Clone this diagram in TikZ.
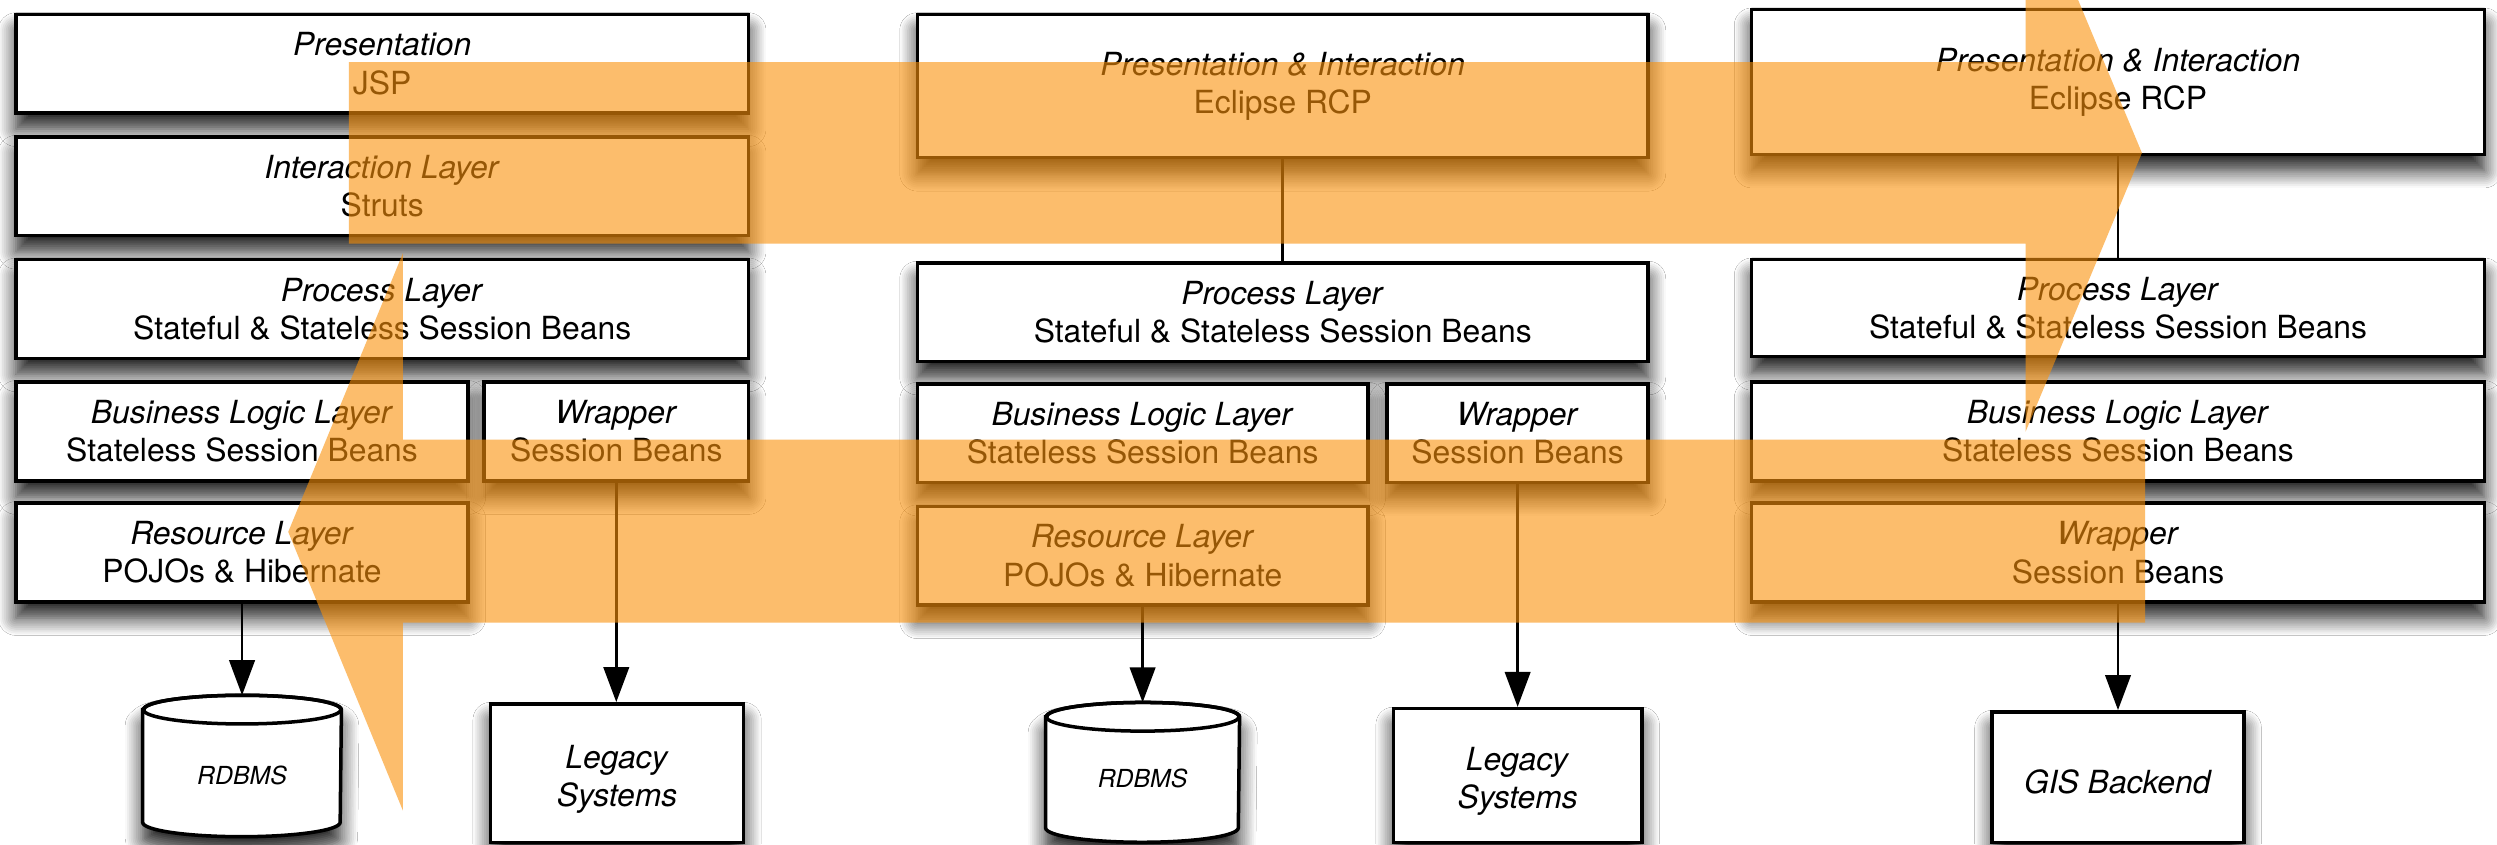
\documentclass[tikz,border=0pt]{standalone}
\usepackage{fontspec}
\setmainfont{TeX Gyre Heros}
\usetikzlibrary{shadows.blur,arrows.meta,calc}
\definecolor{hl}{RGB}{250,145,10}
\tikzset{
  shad/.style={blur shadow={shadow xshift=0pt, shadow yshift=-5pt, shadow blur radius=5.5pt, shadow opacity=90, shadow blur steps=10}},
  box/.style={draw=black, line width=1.1pt, fill=white, align=center, inner sep=0pt,
    font=\fontsize{10}{12}\selectfont, shad},
  cyl/.style={draw=black, line width=1.1pt, fill=white, shad},
  dbtext/.style={font=\fontsize{7.8}{9}\selectfont\itshape, inner sep=0pt},
  link/.style={draw=black, line width=0.8pt},
  arr/.style={link, -{Triangle[length=11pt,width=8pt]}},
  hlarrow/.style={fill=hl, fill opacity=0.6, draw=none},
}
\begin{document}
\begin{tikzpicture}[x=0.5pt,y=-0.5pt]
\useasboundingbox (0,0) rectangle (1568,530);
\fill[white] (0,0) rectangle (1568,530);
\clip (0,0) rectangle (1568,530);

% ---------- column 1 ----------
\node[box, minimum width=230pt, minimum height=31pt] (p1) at (240,40) {\textit{Presentation}\\JSP};
\node[box, minimum width=230pt, minimum height=31pt] (i1) at (240,117) {\textit{Interaction Layer}\\Struts};
\node[box, minimum width=230pt, minimum height=31pt] (pr1) at (240,194) {\textit{Process Layer}\\Stateful \& Stateless Session Beans};
\node[box, minimum width=142pt, minimum height=31pt] (b1) at (152,271) {\textit{Business Logic Layer}\\Stateless Session Beans};
\node[box, minimum width=83pt, minimum height=31pt] (w1) at (387,271) {\textit{Wrapper}\\Session Beans};
\node[box, minimum width=142pt, minimum height=31pt] (r1) at (152,347) {\textit{Resource Layer}\\POJOs \& Hibernate};
\node[minimum width=62pt, minimum height=44pt, inner sep=0pt] (db1) at (152,481) {};
\draw[cyl] ([yshift=-4.5pt]db1.north west) -- ([yshift=4.5pt]db1.south west)
  arc[start angle=180, end angle=360, x radius=31pt, y radius=4.5pt]
  -- ([yshift=-4.5pt]db1.north east)
  arc[start angle=0, end angle=180, x radius=31pt, y radius=4.5pt] -- cycle;
\draw[line width=1.1pt] ([yshift=-4.5pt]db1.north) ellipse[x radius=31pt, y radius=4.5pt];
\node[dbtext] (db1t) at ([yshift=-3pt]db1.center) {RDBMS};
\node[box, minimum width=79.5pt, minimum height=43.5pt] (l1) at (387.5,485.5)
  {\raisebox{-2pt}[\height][\depth]{\begin{tabular}{@{}c@{}}\textit{Legacy}\\\textit{Systems}\end{tabular}}};

% ---------- column 2 ----------
\node[box, minimum width=229.5pt, minimum height=45pt] (p2) at (805.5,54) {\textit{Presentation \& Interaction}\\Eclipse RCP};
\node[box, minimum width=229.5pt, minimum height=31pt] (pr2) at (805.5,196) {\textit{Process Layer}\\Stateful \& Stateless Session Beans};
\node[box, minimum width=141.5pt, minimum height=31pt] (b2) at (717.5,272) {\textit{Business Logic Layer}\\Stateless Session Beans};
\node[box, minimum width=82pt, minimum height=31pt] (w2) at (953,272) {\textit{Wrapper}\\Session Beans};
\node[box, minimum width=141.5pt, minimum height=31pt] (r2) at (717.5,349) {\textit{Resource Layer}\\POJOs \& Hibernate};
\node[minimum width=60.5pt, minimum height=43.5pt, inner sep=0pt] (db2) at (717.5,485) {};
\draw[cyl] ([yshift=-4.5pt]db2.north west) -- ([yshift=4.5pt]db2.south west)
  arc[start angle=180, end angle=360, x radius=30.25pt, y radius=4.5pt]
  -- ([yshift=-4.5pt]db2.north east)
  arc[start angle=0, end angle=180, x radius=30.25pt, y radius=4.5pt] -- cycle;
\draw[line width=1.1pt] ([yshift=-4.5pt]db2.north) ellipse[x radius=30.25pt, y radius=4.5pt];
\node[dbtext] (db2t) at ([yshift=-2pt]db2.center) {RDBMS};
\node[box, minimum width=78pt, minimum height=42pt] (l2) at (953,487)
  {\raisebox{-2pt}[\height][\depth]{\begin{tabular}{@{}c@{}}\textit{Legacy}\\\textit{Systems}\end{tabular}}};

% ---------- column 3 ----------
\node[box, minimum width=230pt, minimum height=45.5pt] (p3) at (1330,51.5) {\textit{Presentation \& Interaction}\\Eclipse RCP};
\node[box, minimum width=230pt, minimum height=30.5pt] (pr3) at (1330,193.5) {\textit{Process Layer}\\Stateful \& Stateless Session Beans};
\node[box, minimum width=230pt, minimum height=31pt] (b3) at (1330,271) {\textit{Business Logic Layer}\\Stateless Session Beans};
\node[box, minimum width=230pt, minimum height=31pt] (w3) at (1330,347) {\textit{Wrapper}\\Session Beans};
\node[box, minimum width=79pt, minimum height=41pt] (gis) at (1330,488) {\raisebox{-1.5pt}[\height][\depth]{\textit{GIS Backend}}};

% ---------- connectors ----------
\draw[arr] (r1.south) -- (db1.north);
\draw[arr] (w1.south) -- (w1.south |- l1.north);
\draw[link] (p2.south) -- (pr2.north);
\draw[arr] (r2.south) -- (r2.south |- db2.north);
\draw[arr] (w2.south) -- (l2.north);
\draw[link] (p3.south) -- (pr3.north);
\draw[arr] (w3.south) -- (gis.north);

% ---------- highlight arrows ----------
\fill[hlarrow] (219,39) -- (1272,39) -- (1272,-79) -- (1345,96) -- (1272,271) -- (1272,153) -- (219,153) -- cycle;
\fill[hlarrow] (1347,276) -- (253,276) -- (253,159) -- (181,334) -- (253,509) -- (253,391) -- (1347,391) -- cycle;
\end{tikzpicture}
\end{document}
